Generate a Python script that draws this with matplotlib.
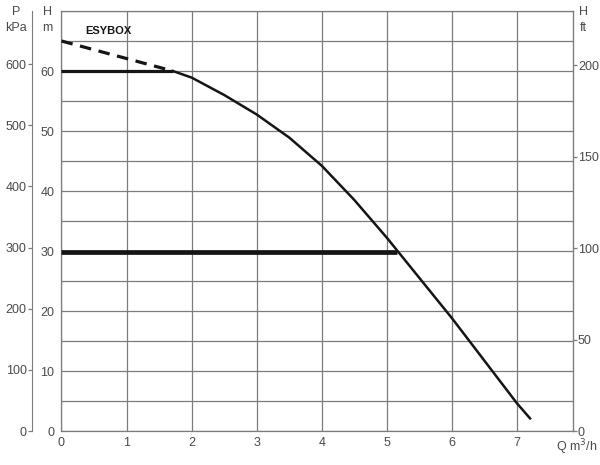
"""
ESYBOX pump performance curve
"""
import matplotlib
matplotlib.use("Agg")
import matplotlib.pyplot as plt

plt.rcParams['font.family'] = ['Liberation Sans', 'DejaVu Sans']

# Pump curve (Q in m3/h, H in m)
dashed_q = [0.0, 1.71]
dashed_h = [65.0, 60.0]
flat_q = [0.0, 1.71]
flat_h = [60.0, 60.0]
curve_q = [1.71, 2.0, 2.5, 3.0, 3.5, 4.0, 4.5, 5.0, 5.5, 6.0, 6.5, 7.0, 7.2]
curve_h = [60.0, 58.9, 56.0, 52.75, 48.9, 44.2, 38.5, 32.2, 25.5, 18.8, 11.7, 4.6, 2.1]
set_q = [0.0, 5.16]
set_h = [29.8, 29.8]

x_ticks = [0, 1, 2, 3, 4, 5, 6, 7]
h_ticks = [0, 10, 20, 30, 40, 50, 60]
p_ticks = [0, 100, 200, 300, 400, 500, 600]
ft_ticks = [0, 50, 100, 150, 200]

grid_c = "#7c7c7c"
text_c = "#4a4a4a"
line_c = "#151515"
fs = 9

fig = plt.figure(figsize=(6, 4.65), dpi=100)
ax = fig.add_axes([61.5 / 600, 1 - 431 / 465, 511.5 / 600, 420 / 465])
ax.set_xlim(0, 7.86)
ax.set_ylim(0, 70)

# grid
for q in range(0, 8):
    ax.axvline(q, color=grid_c, lw=0.9, zorder=1)
for h in range(0, 71, 5):
    ax.axhline(h, color=grid_c, lw=0.9, zorder=1)

ax.plot(dashed_q, dashed_h, color=line_c, lw=2.3, ls=(0, (3.6, 2.4)), zorder=3)
ax.plot(flat_q, flat_h, color=line_c, lw=2.3, zorder=3, solid_capstyle="butt")
ax.plot(curve_q, curve_h, color=line_c, lw=1.8, zorder=3, solid_joinstyle="round")
ax.plot(set_q, set_h, color=line_c, lw=3.4, zorder=3, solid_capstyle="butt")

ax.text(0.37, 66.6, "ESYBOX", fontsize=8, fontweight="bold", color=line_c,
        va="center", ha="left")

for s in ax.spines.values():
    s.set_color(grid_c)
    s.set_linewidth(0.9)

ax.set_xticks(x_ticks)
ax.set_xticklabels([str(t) for t in x_ticks])
ax.set_yticks(h_ticks)
ax.set_yticklabels([str(t) for t in h_ticks])
ax.tick_params(axis="both", length=0, colors=text_c, labelsize=fs, pad=4)
ax.tick_params(axis="y", pad=5)

# P kPa axis on the far left
p_ax = ax.secondary_yaxis("left", functions=(lambda m: m * 9.81, lambda p: p / 9.81))
p_ax.spines["left"].set_position(("outward", 21.5))
p_ax.spines["left"].set_color(grid_c)
p_ax.set_yticks(p_ticks)
p_ax.tick_params(axis="y", length=3, width=0.9, color=grid_c, colors=text_c,
                 labelsize=fs, pad=0.5)

# H ft axis on the right
ft_ax = ax.secondary_yaxis("right", functions=(lambda m: m / 0.3048, lambda f: f * 0.3048))
ft_ax.spines["right"].set_color(grid_c)
ft_ax.set_yticks(ft_ticks)
ft_ax.tick_params(axis="y", length=3, width=0.9, color=grid_c, colors=text_c,
                  labelsize=fs, pad=0.5)

# axis titles
fig.text(16 / 600, 1 - 12 / 465, "P", fontsize=fs, color=text_c, ha="center", va="center")
fig.text(16 / 600, 1 - 28 / 465, "kPa", fontsize=fs, color=text_c, ha="center", va="center")
fig.text(48 / 600, 1 - 12 / 465, "H", fontsize=fs, color=text_c, ha="center", va="center")
fig.text(47 / 600, 1 - 28 / 465, "m", fontsize=fs, color=text_c, ha="center", va="center")
fig.text(583 / 600, 1 - 12 / 465, "H", fontsize=fs, color=text_c, ha="center", va="center")
fig.text(583 / 600, 1 - 28 / 465, "ft", fontsize=fs, color=text_c, ha="center", va="center")
fig.text(597 / 600, 1 - 447 / 465, "Q m$^3$/h", fontsize=fs, color=text_c,
         ha="right", va="center")

fig.savefig("out.png", dpi=100, facecolor="white")
